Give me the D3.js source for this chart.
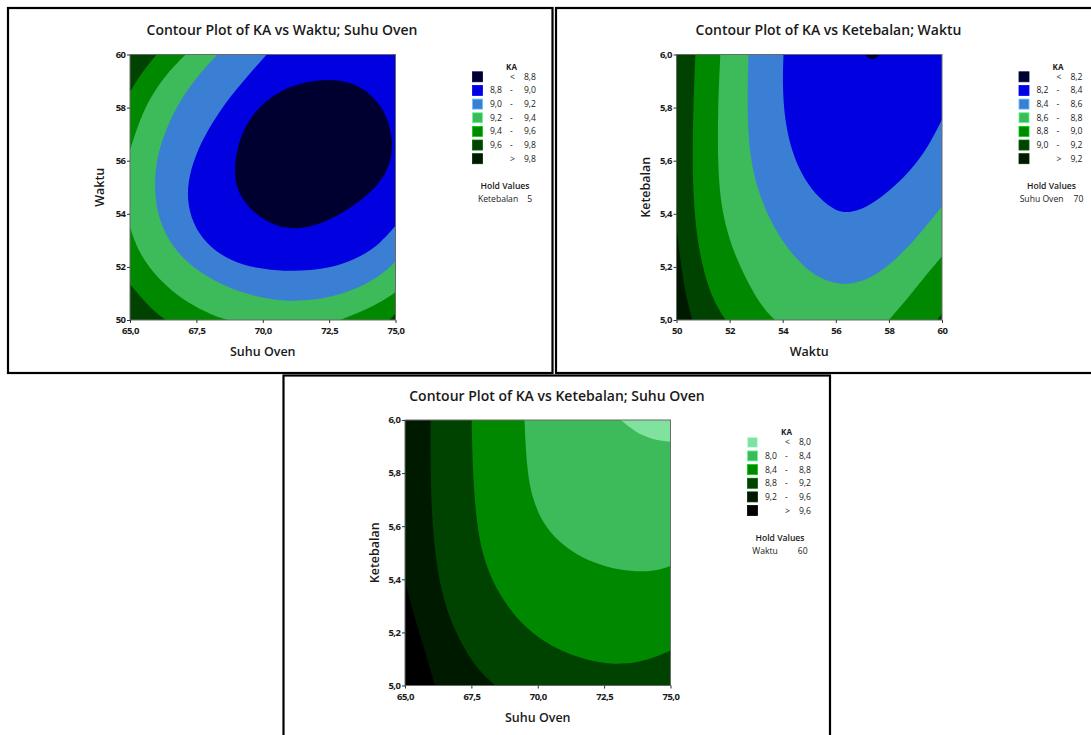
<!DOCTYPE html>
<html><head><meta charset="utf-8">
<script src="https://cdn.jsdelivr.net/npm/d3@7"></script>
<style>
body{margin:0;background:#fff;}
svg{display:block;}
text{font-family:"Open Sans",sans-serif;fill:#1a1a1a;}
</style>
</head><body>
<svg id="chart" width="1091" height="735"></svg>
<script>
// ---------- DATA ----------
// Panel 1: KA vs Waktu; Suhu Oven  (x = Suhu Oven, y = Waktu), hold Ketebalan = 5
const p1XTicks = [65, 67.5, 70, 72.5, 75];
const p1YTicks = [50, 52, 54, 56, 58, 60];
const p1Breaks = ["8,8", "9,0", "9,2", "9,4", "9,6", "9,8"];
const p1Colors = ["#000030", "#0000e0", "#3b7fd4", "#3dba5a", "#008800", "#004200", "#001a00"];
// contour lines as (x, y) points
const p1_c88 = [[68.88,55.5],[69.1,56.9],[69.75,57.96],[70.63,58.65],[71.63,58.98],[72.5,59.08],[73.39,58.96],[74.15,58.46],[74.7,57.7],[74.92,56.7],[74.8,55.83],[74.4,55.15],[73.77,54.55],[72.89,53.95],[71.9,53.52],[71.2,53.43],[70.5,53.52],[69.75,53.95],[69.12,54.65]];
const p1_c90 = [[70.15,60],[69.35,59.1],[68.6,58.2],[67.95,57.2],[67.45,56.2],[67.17,55.2],[67.17,54.3],[67.45,53.45],[68.0,52.75],[68.8,52.22],[69.8,51.93],[70.8,51.84],[71.8,51.86],[72.8,52.02],[73.7,52.38],[74.45,52.9],[75,53.55]];
const p1_c92 = [[68.3,60],[67.55,59.2],[66.9,58.3],[66.4,57.3],[66.05,56.3],[65.92,55.3],[65.97,54.3],[66.25,53.35],[66.8,52.5],[67.6,51.8],[68.6,51.25],[69.7,50.88],[70.8,50.7],[71.9,50.74],[72.9,50.95],[73.8,51.3],[74.5,51.72],[75,52.2]];
const p1_c94a = [[67.1,60],[66.4,59.3],[65.8,58.45],[65.35,57.5],[65,56.4]];
const p1_c94b = [[65,53.5],[65.3,52.6],[65.85,51.8],[66.55,51.1],[67.35,50.55],[68.1,50.18],[68.7,50]];
const p1_c94c = [[72.9,50],[73.7,50.3],[74.4,50.65],[75,51.05]];
const p1_c96a = [[66.0,60],[65.5,59.4],[65,58.6]];
const p1_c96b = [[65,51.35],[65.5,50.75],[66.0,50.25],[66.35,50]];
const p1_c96c = [[74.75,50],[74.9,50.12],[75,50.25]];

// Panel 2: KA vs Ketebalan; Waktu (x = Waktu, y = Ketebalan), hold Suhu Oven = 70
const p2XTicks = [50, 52, 54, 56, 58, 60];
const p2YTicks = [5.0, 5.2, 5.4, 5.6, 5.8, 6.0];
const p2Breaks = ["8,2", "8,4", "8,6", "8,8", "9,0", "9,2"];
const p2Colors = ["#000030", "#0000e0", "#3b7fd4", "#3dba5a", "#008800", "#004200", "#001a00"];
const p2_c92 = [[50,5.35],[50.2,5.18],[50.4,5.07],[50.6,5.0]];
const p2_c90a = [[50.71,6.0],[50.63,5.8],[50.6,5.6],[50.64,5.45],[50.78,5.3],[51.05,5.17],[51.4,5.07],[51.85,5.0]];
const p2_c90b = [[59.82,5.0],[60,5.025]];
const p2_c88a = [[51.65,6.0],[51.56,5.8],[51.55,5.6],[51.65,5.45],[51.9,5.33],[52.3,5.22],[52.85,5.11],[53.3,5.04],[53.71,5.0]];
const p2_c88b = [[58.0,5.0],[58.7,5.08],[59.4,5.17],[60,5.24]];
const p2_c86 = [[52.71,6.0],[52.66,5.8],[52.74,5.62],[53.1,5.47],[53.7,5.34],[54.4,5.24],[55.2,5.165],[56.0,5.135],[56.6,5.135],[57.3,5.155],[58.2,5.22],[59.1,5.315],[60,5.428]];
const p2_c84 = [[54.03,6.0],[53.99,5.88],[54.08,5.75],[54.35,5.63],[54.8,5.53],[55.4,5.455],[56.0,5.41],[56.5,5.403],[57.1,5.42],[57.9,5.475],[58.8,5.56],[59.5,5.655],[60,5.755]];
const p2_c82 = [[57.1,6.0],[57.2,5.986],[57.38,5.981],[57.56,5.986],[57.66,6.0]];

// Panel 3: KA vs Ketebalan; Suhu Oven (x = Suhu Oven, y = Ketebalan), hold Waktu = 60
const p3XTicks = [65, 67.5, 70, 72.5, 75];
const p3YTicks = [5.0, 5.2, 5.4, 5.6, 5.8, 6.0];
const p3Breaks = ["8,0", "8,4", "8,8", "9,2", "9,6"];
const p3Colors = ["#80e29e", "#3dba5a", "#008800", "#004200", "#001a00", "#000000"];
const p3_c96 = [[65,5.39],[65.35,5.26],[65.75,5.13],[66.13,5.0]];
const p3_c92 = [[65.96,6.0],[65.96,5.8],[66.02,5.62],[66.17,5.46],[66.45,5.32],[66.9,5.2],[67.45,5.1],[67.95,5.04],[68.4,5.0]];
const p3_c88 = [[67.51,6.0],[67.55,5.8],[67.7,5.6],[68.0,5.46],[68.55,5.34],[69.3,5.24],[70.2,5.165],[71.2,5.115],[72.2,5.088],[72.9,5.08],[73.7,5.085],[74.4,5.105],[75,5.132]];
const p3_c84 = [[69.5,6.0],[69.58,5.82],[69.8,5.7],[70.2,5.61],[70.8,5.54],[71.5,5.49],[72.3,5.455],[73.1,5.435],[73.9,5.428],[74.5,5.433],[75,5.45]];
const p3_c80 = [[73.13,6.0],[73.52,5.968],[73.9,5.943],[74.4,5.925],[75,5.918]];

// ---------- RENDER ----------
const svg = d3.select("#chart");
const loc = d3.formatLocale({decimal: ",", thousands: ".", grouping: [3], currency: ["", ""]});
const fmt1 = loc.format(".1f"), fmt0 = loc.format("d");

const panels = [
  {
    dx: 0, dy: 0, title: "Contour Plot of KA vs Waktu; Suhu Oven",
    xDomain: [65, 75], yDomain: [50, 60], xTicks: p1XTicks, yTicks: p1YTicks,
    xFmt: fmt1, yFmt: fmt0, xLabel: "Suhu Oven", yLabel: "Waktu",
    breaks: p1Breaks, colors: p1Colors, holdName: "Ketebalan", holdVal: "5", holdGap: 9,
    bg: p1Colors[5],
    regions: [
      {color: p1Colors[4], parts: [p1_c96a, p1_c96b, p1_c96c, [[75,60]]]},
      {color: p1Colors[3], parts: [p1_c94a, p1_c94b, p1_c94c, [[75,60]]]},
      {color: p1Colors[2], parts: [p1_c92, [[75,60]]]},
      {color: p1Colors[1], parts: [p1_c90, [[75,60]]]},
      {color: p1Colors[0], parts: [p1_c88], closed: true}
    ]
  },
  {
    dx: 546.5, dy: 0, title: "Contour Plot of KA vs Ketebalan; Waktu",
    xDomain: [50, 60], yDomain: [5, 6], xTicks: p2XTicks, yTicks: p2YTicks,
    xFmt: fmt0, yFmt: fmt1, xLabel: "Waktu", yLabel: "Ketebalan",
    breaks: p2Breaks, colors: p2Colors, holdName: "Suhu Oven", holdVal: "70", holdGap: 10,
    bg: p2Colors[5],
    regions: [
      {color: p2Colors[6], parts: [p2_c92, [[50,5]]]},
      {color: p2Colors[4], parts: [p2_c90a, p2_c90b, [[60,6]]]},
      {color: p2Colors[3], parts: [p2_c88a, p2_c88b, [[60,6]]]},
      {color: p2Colors[2], parts: [p2_c86, [[60,6]]]},
      {color: p2Colors[1], parts: [p2_c84, [[60,6]]]},
      {color: p2Colors[0], parts: [p2_c82]}
    ]
  },
  {
    dx: 275, dy: 365.5, title: "Contour Plot of KA vs Ketebalan; Suhu Oven",
    xDomain: [65, 75], yDomain: [5, 6], xTicks: p3XTicks, yTicks: p3YTicks,
    xFmt: fmt1, yFmt: fmt1, xLabel: "Suhu Oven", yLabel: "Ketebalan",
    breaks: p3Breaks, colors: p3Colors, holdName: "Waktu", holdVal: "60", holdGap: 20,
    bg: p3Colors[4],
    regions: [
      {color: p3Colors[5], parts: [p3_c96, [[65,5]]]},
      {color: p3Colors[3], parts: [p3_c92, [[75,5]], [[75,6]]]},
      {color: p3Colors[2], parts: [p3_c88, [[75,6]]]},
      {color: p3Colors[1], parts: [p3_c84, [[75,6]]]},
      {color: p3Colors[0], parts: [p3_c80, [[75,6]]]}
    ]
  }
];

// panel frames
const frames = [
  {x: 8, y: 8, w: 544.5, h: 365},
  {x: 556, y: 8, w: 560, h: 365},
  {x: 283.5, y: 375.5, w: 546.5, h: 380}
];
frames.forEach(f => svg.append("rect").attr("x", f.x).attr("y", f.y).attr("width", f.w).attr("height", f.h)
  .attr("fill", "none").attr("stroke", "#000").attr("stroke-width", 2.2));

const PL = 130, PR = 395.5, PT = 54.5, PB = 320;

panels.forEach((p, pi) => {
  const g = svg.append("g").attr("transform", `translate(${p.dx},${p.dy})`);
  const x = d3.scaleLinear().domain(p.xDomain).range([PL, PR]);
  const y = d3.scaleLinear().domain(p.yDomain).range([PB, PT]);

  const clipId = "clip" + pi;
  g.append("clipPath").attr("id", clipId).append("rect")
    .attr("x", PL).attr("y", PT).attr("width", PR - PL).attr("height", PB - PT);

  const plot = g.append("g").attr("clip-path", `url(#${clipId})`);
  plot.append("rect").attr("x", PL).attr("y", PT).attr("width", PR - PL).attr("height", PB - PT).attr("fill", p.bg);

  const openLine = d3.line().x(d => x(d[0])).y(d => y(d[1])).curve(d3.curveBasis);
  const closedLine = d3.line().x(d => x(d[0])).y(d => y(d[1])).curve(d3.curveBasisClosed);
  function regionPath(r) {
    if (r.closed) return closedLine(r.parts[0]);
    let d = "";
    r.parts.forEach((pts, i) => {
      const s = pts.length === 1 ? `M${x(pts[0][0])},${y(pts[0][1])}` : openLine(pts);
      d += i === 0 ? s : "L" + s.slice(1);
    });
    return d + "Z";
  }
  plot.selectAll("path.band").data(p.regions).join("path").attr("class", "band")
    .attr("d", regionPath).attr("fill", d => d.color);

  // plot frame
  g.append("rect").attr("x", PL).attr("y", PT).attr("width", PR - PL).attr("height", PB - PT)
    .attr("fill", "none").attr("stroke", "#6a6a6a").attr("stroke-width", 1);

  // axes
  const xa = g.append("g").attr("transform", `translate(0,${PB})`)
    .call(d3.axisBottom(x).tickValues(p.xTicks).tickFormat(p.xFmt).tickSize(3).tickSizeOuter(0));
  const ya = g.append("g").attr("transform", `translate(${PL},0)`)
    .call(d3.axisLeft(y).tickValues(p.yTicks).tickFormat(p.yFmt).tickSize(3).tickSizeOuter(0));
  [xa, ya].forEach(a => {
    a.select(".domain").remove();
    a.selectAll(".tick line").attr("stroke", "#333");
    a.selectAll(".tick text").attr("font-family", "'Open Sans', sans-serif").attr("font-size", 9.5)
      .attr("font-weight", 700).attr("letter-spacing", -0.5).attr("fill", "#1a1a1a");
  });
  xa.selectAll(".tick text").attr("dy", "0.71em").attr("y", 7.5);
  ya.selectAll(".tick text").attr("x", -4.5).attr("dy", "0.3em");

  // title and axis labels
  g.append("text").attr("x", 282).attr("y", 35).attr("text-anchor", "middle")
    .attr("font-size", 14).attr("font-weight", 600).text(p.title);
  g.append("text").attr("x", (PL + PR) / 2).attr("y", 356).attr("text-anchor", "middle")
    .attr("font-size", 12.5).attr("font-weight", 600).text(p.xLabel);
  g.append("text").attr("transform", `translate(103.5,${(PT + PB) / 2}) rotate(-90)`).attr("text-anchor", "middle")
    .attr("font-size", 12.5).attr("font-weight", 600).text(p.yLabel);

  // legend
  const lg = g.append("g");
  const rowY0 = 76.8, pitch = 13.65;
  lg.append("text").attr("x", 511.5).attr("y", 69.5).attr("text-anchor", "middle")
    .attr("font-size", 8).attr("font-weight", 700).text("KA");
  const n = p.colors.length;
  const fs = 8.6;
  p.colors.forEach((c, i) => {
    const cy = rowY0 + i * pitch;
    lg.append("rect").attr("x", 472.5).attr("y", cy - 5).attr("width", 10).attr("height", 10)
      .attr("fill", c).attr("stroke", d3.color(c).brighter(1.2)).attr("stroke-width", 0.8);
    if (i === 0 || i === n - 1) {
      lg.append("text").attr("x", 512.5).attr("y", cy + 3).attr("text-anchor", "middle")
        .attr("font-size", fs).text(i === 0 ? "<" : ">");
      lg.append("text").attr("x", 536).attr("y", cy + 3).attr("text-anchor", "end")
        .attr("font-size", fs).text(i === 0 ? p.breaks[0] : p.breaks[p.breaks.length - 1]);
    } else {
      lg.append("text").attr("x", 502).attr("y", cy + 3).attr("text-anchor", "end")
        .attr("font-size", fs).text(p.breaks[i - 1]);
      lg.append("text").attr("x", 511.5).attr("y", cy + 3).attr("text-anchor", "middle")
        .attr("font-size", fs).text("-");
      lg.append("text").attr("x", 536).attr("y", cy + 3).attr("text-anchor", "end")
        .attr("font-size", fs).text(p.breaks[i]);
    }
  });
  const lastY = rowY0 + (n - 1) * pitch;
  lg.append("text").attr("x", 505).attr("y", lastY + 30).attr("text-anchor", "middle")
    .attr("font-size", 8.6).attr("font-weight", 600).text("Hold Values");
  const ht = lg.append("text").attr("x", 505).attr("y", lastY + 43).attr("text-anchor", "middle")
    .attr("font-size", 8.6);
  ht.append("tspan").text(p.holdName);
  ht.append("tspan").attr("dx", p.holdGap).text(p.holdVal);
});
</script>
</body></html>
